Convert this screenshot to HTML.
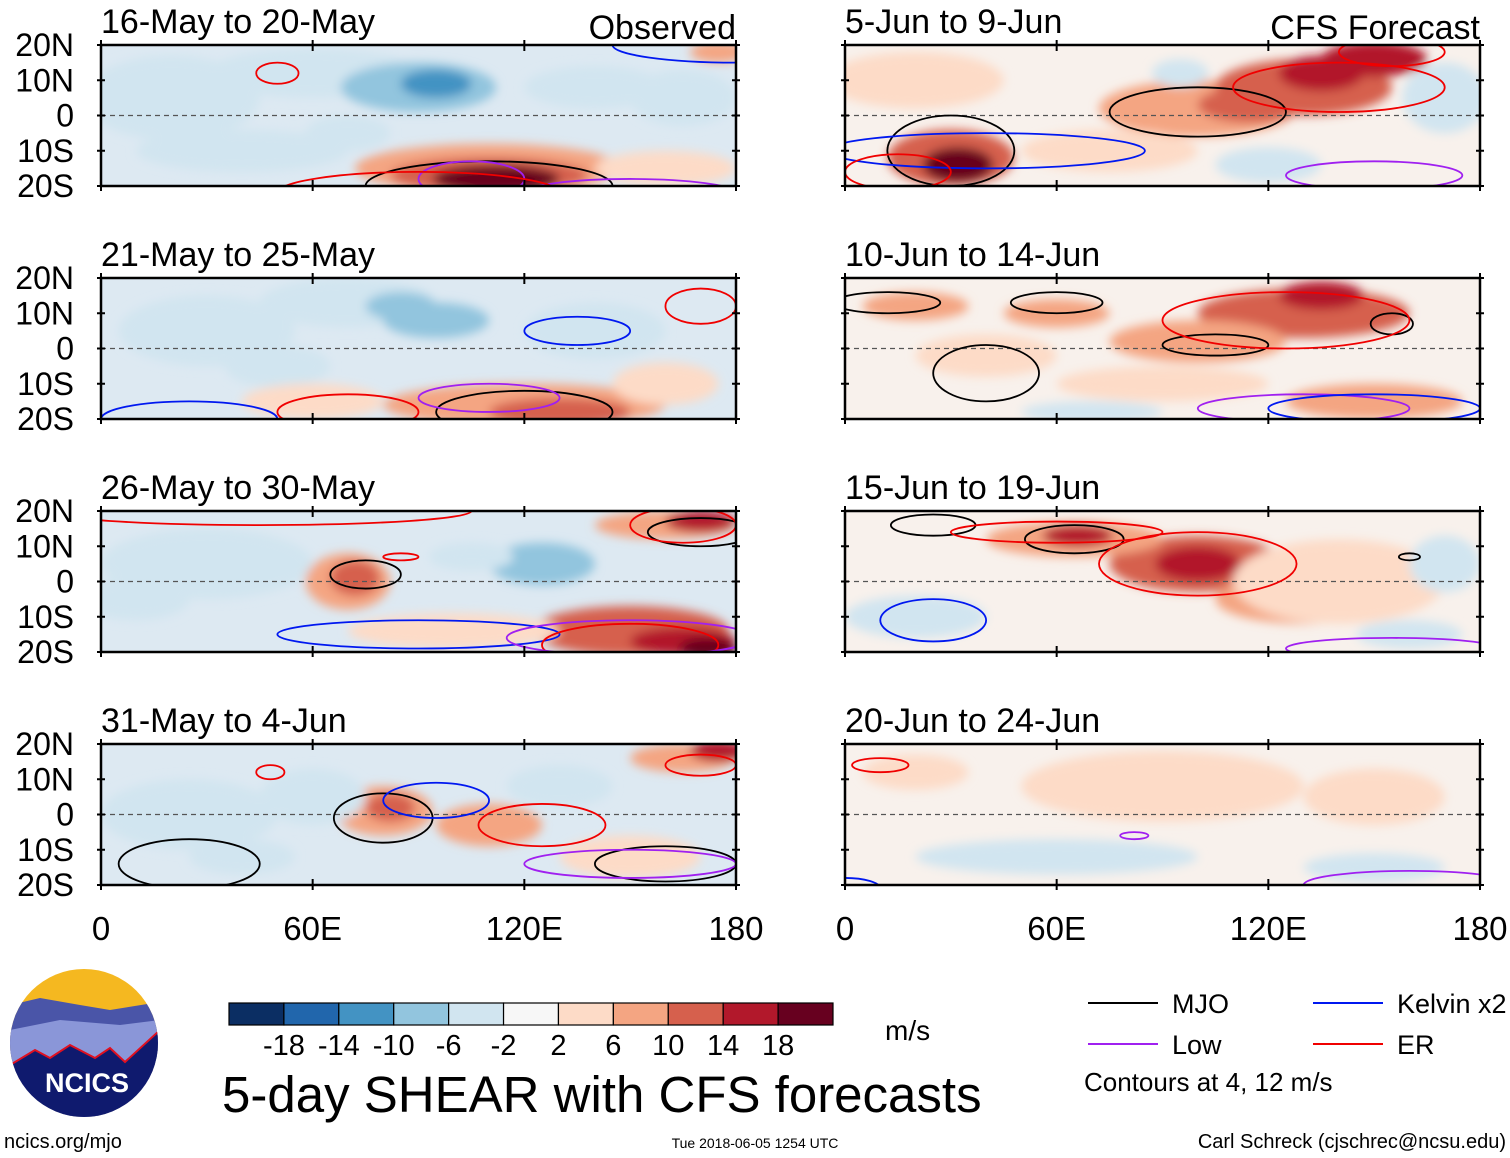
<!DOCTYPE html>
<html><head><meta charset="utf-8">
<style>
body{margin:0;background:#fff;}
svg{display:block;font-family:"Liberation Sans",sans-serif;}
</style></head>
<body>
<svg id="fig" width="1510" height="1158" viewBox="0 0 1510 1158" xmlns="http://www.w3.org/2000/svg">
<defs>
<filter id="blur" x="-30%" y="-30%" width="160%" height="160%"><feGaussianBlur stdDeviation="5"/></filter>
</defs>
<g id="panels"></g>
<g id="bottom"></g>
</svg>
<script>
// ----- data -----
const levels = [-18,-14,-10,-6,-2,2,6,10,14,18];
const levelColors = ["#0b2e63","#2166ac","#4393c3","#92c5de","#d1e5f0","#f7f7f7","#fddbc7","#f4a582","#d6604d","#b2182b","#67001f"];
const latTicks = ["20N","10N","0","10S","20S"];
const latVals = [20,10,0,-10,-20];
const lonTicks = ["0","60E","120E","180"];
const lonVals = [0,60,120,180];
const panelTitles = ["16-May to 20-May","21-May to 25-May","26-May to 30-May","31-May to 4-Jun",
                     "5-Jun to 9-Jun","10-Jun to 14-Jun","15-Jun to 19-Jun","20-Jun to 24-Jun"];
// anomaly blobs: [lon, lat, rxDeg, ryDeg, value]
const blobs = [
 [[20,5,25,12,-4],[60,12,30,7,-6],[90,8,22,7,-8],[95,9,10,4,-12],[140,8,20,6,-6],[165,5,15,8,-6],[40,-10,30,6,-4],[70,-5,12,5,-6],[110,-15,38,7,8],[110,-17,28,5,12],[112,-18,18,4,18],[160,-15,20,5,4],[175,18,8,3,8]],
 [[30,5,25,10,-4],[70,13,25,7,-6],[95,8,15,5,-10],[85,12,10,4,-8],[140,5,20,8,-4],[50,-5,15,6,-4],[120,-16,40,6,6],[130,-18,20,4,10],[160,-10,15,6,4],[60,-15,20,5,4]],
 [[30,5,30,10,-4],[10,-5,15,6,-6],[70,0,12,8,8],[72,1,7,5,10],[125,5,15,6,-8],[160,16,20,4,8],[170,17,10,3,16],[150,-14,28,7,10],[165,-17,15,4,14],[172,-19,8,3,18],[100,-14,30,5,4],[105,7,12,4,-6]],
 [[25,0,25,10,-4],[80,1,14,7,8],[82,2,7,4,12],[110,-3,15,6,6],[165,16,15,4,8],[175,18,8,3,14],[150,-12,20,6,4],[60,5,15,8,-6],[130,8,15,6,-6],[40,-12,15,5,-6]],
 [[30,-12,18,8,10],[32,-14,10,5,18],[100,2,28,8,8],[115,3,15,5,10],[130,8,25,8,10],[135,12,12,5,14],[150,16,15,5,14],[170,5,12,10,-6],[75,-10,25,6,4],[120,-14,15,5,-6],[20,10,25,8,4],[95,12,8,4,-6]],
 [[130,10,30,7,10],[135,15,12,4,16],[100,2,25,6,8],[60,10,15,4,8],[20,12,15,4,6],[40,-2,20,6,4],[150,-15,25,5,6],[90,-10,30,5,2],[70,-18,20,3,-4]],
 [[100,5,25,8,10],[100,5,12,5,16],[65,12,25,5,8],[66,13,10,3,14],[130,-5,25,7,6],[140,0,30,12,4],[20,-10,20,6,-4],[170,5,10,8,-4],[160,-15,15,4,-4]],
 [[90,8,40,10,4],[20,12,15,5,4],[150,5,20,8,2],[60,-12,40,5,-4],[150,-15,20,4,-4]]
];
// contours: [lon, lat, rxDeg, ryDeg, type]
const contours = [
 [[110,-20,35,7,"mjo"],[105,-18,15,5,"low"],[150,-22,30,4,"low"],[180,20,35,5,"kelvin"],[50,12,6,3,"er"],[90,-22,40,6,"er"]],
 [[120,-18,25,6,"mjo"],[135,5,15,4,"kelvin"],[25,-20,25,5,"kelvin"],[110,-14,20,4,"low"],[170,12,10,5,"er"],[70,-18,20,5,"er"]],
 [[75,2,10,4,"mjo"],[170,14,15,4,"mjo"],[90,-15,40,4,"kelvin"],[150,-18,25,6,"er"],[150,-16,35,5,"low"],[165,16,15,5,"er"],[45,20,60,4,"er"],[85,7,5,1,"er"]],
 [[80,-1,14,7,"mjo"],[95,4,15,5,"kelvin"],[125,-3,18,6,"er"],[25,-14,20,7,"mjo"],[160,-14,20,5,"mjo"],[150,-14,30,4,"low"],[170,14,10,3,"er"],[48,12,4,2,"er"]],
 [[100,1,25,7,"mjo"],[30,-10,18,10,"mjo"],[40,-10,45,5,"kelvin"],[140,8,30,7,"er"],[150,-17,25,4,"low"],[155,18,15,4,"er"],[15,-16,15,5,"er"]],
 [[60,13,13,3,"mjo"],[12,13,15,3,"mjo"],[40,-7,15,8,"mjo"],[105,1,15,3,"mjo"],[155,7,6,3,"mjo"],[125,8,35,8,"er"],[130,-17,30,4,"low"],[150,-17,30,4,"kelvin"]],
 [[65,12,14,4,"mjo"],[25,16,12,3,"mjo"],[160,7,3,1,"mjo"],[100,5,28,9,"er"],[60,14,30,3,"er"],[25,-11,15,6,"kelvin"],[155,-19,30,3,"low"]],
 [[10,14,8,2,"er"],[82,-6,4,1,"low"],[160,-20,30,4,"low"],[0,-21,10,3,"kelvin"]]
];
const contourColors = {mjo:"#000",kelvin:"#0018f0",low:"#a020f0",er:"#f00000"};
const legendItems = [["MJO","mjo",1088,1003],["Kelvin x2","kelvin",1313,1003],["Low","low",1088,1044],["ER","er",1313,1044]];

// ----- helpers -----
const NS = "http://www.w3.org/2000/svg";
function mk(tag, attrs, parent){const e=document.createElementNS(NS,tag);for(const k in attrs)e.setAttribute(k,attrs[k]);if(parent)parent.appendChild(e);return e;}
function colorFor(v){let i=0;while(i<levels.length&&v>=levels[i])i++;return levelColors[i];}
const PW=635, PH=141;
const panelX=[101,845], panelY=[45,278,511,744];

const root=document.getElementById("panels");
for(let p=0;p<8;p++){
  const col=p<4?0:1, row=p%4;
  const x0=panelX[col], y0=panelY[row];
  const xs=lon=>x0+lon/180*PW;
  const ys=lat=>y0+(20-lat)/40*PH;
  const g=mk("g",{},root);
  
  
  const cp=mk("clipPath",{id:"cp"+p},g);
  mk("rect",{x:x0,y:y0,width:PW,height:PH},cp);
  const inner=mk("g",{"clip-path":"url(#cp"+p+")"},g);
  mk("rect",{x:x0,y:y0,width:PW,height:PH,fill:col===0?"#dde9f2":"#f8f1ec"},inner);
  const bg=mk("g",{filter:"url(#blur)"},inner);
  blobs[p].forEach(b=>{
    const e=mk("ellipse",{cx:xs(b[0]),cy:ys(b[1]),rx:b[2]/180*PW,ry:b[3]/40*PH,fill:colorFor(b[4])},bg);
    
    
  });
  mk("line",{x1:x0,y1:ys(0),x2:x0+PW,y2:ys(0),stroke:"#555","stroke-width":1.3,"stroke-dasharray":"5,4"},inner);
  contours[p].forEach(c=>{
    const e=mk("ellipse",{cx:xs(c[0]),cy:ys(c[1]),rx:c[2]/180*PW,ry:c[3]/40*PH,fill:"none",stroke:contourColors[c[4]],"stroke-width":1.8},inner);
    
    
  });
  mk("rect",{x:x0,y:y0,width:PW,height:PH,fill:"none",stroke:"#000","stroke-width":2.5},g);
  lonVals.forEach(l=>{mk("line",{x1:xs(l),y1:y0-5,x2:xs(l),y2:y0+6,stroke:"#000","stroke-width":2},g);mk("line",{x1:xs(l),y1:y0+PH-6,x2:xs(l),y2:y0+PH+5,stroke:"#000","stroke-width":2},g);});
  latVals.forEach(l=>{mk("line",{x1:x0-4,y1:ys(l),x2:x0+4,y2:ys(l),stroke:"#000","stroke-width":2},g);mk("line",{x1:x0+PW-4,y1:ys(l),x2:x0+PW+4,y2:ys(l),stroke:"#000","stroke-width":2},g);});
  const t=mk("text",{x:x0,y:y0-12,"font-size":34,fill:"#000"},g);t.textContent=panelTitles[p];
  
  
  if(row===0){
    const s=mk("text",{x:x0+PW,y:y0-6,"font-size":34,"text-anchor":"end"},g);s.textContent=col===0?"Observed":"CFS Forecast";
    
    
  }
  if(col===0){
    latVals.forEach((l,i)=>{const tt=mk("text",{x:74,y:ys(l)+11,"font-size":32,"text-anchor":"end"},g);tt.textContent=latTicks[i];
      
      });
  }
  if(row===3){
    lonVals.forEach((l,i)=>{const tt=mk("text",{x:xs(l),y:940,"font-size":33,"text-anchor":"middle"},g);tt.textContent=lonTicks[i];
      
      });
  }
}

// ----- bottom -----
const bt=document.getElementById("bottom");
const cb=mk("g",{},bt);


const cbx=229,cbw=604/levelColors.length;
levelColors.forEach((c,i)=>{mk("rect",{x:cbx+i*cbw,y:1003,width:cbw,height:22,fill:c,stroke:"#000","stroke-width":1.2},cb);});
levels.forEach((v,i)=>{const t=mk("text",{x:cbx+(i+1)*cbw,y:1055,"font-size":29,"text-anchor":"middle"},cb);t.textContent=v;});
const mu=mk("text",{x:885,y:1040,"font-size":28},bt);mu.textContent="m/s";


const ti=mk("text",{x:222,y:1112,"font-size":51},bt);ti.textContent="5-day SHEAR with CFS forecasts";


legendItems.forEach(it=>{
  const g=mk("g",{},bt);
  
  
  mk("line",{x1:it[2],y1:it[3],x2:it[2]+70,y2:it[3],stroke:contourColors[it[1]],"stroke-width":2},g);
  const t=mk("text",{x:it[2]+84,y:it[3]+10,"font-size":27},g);t.textContent=it[0];
});
const ca=mk("text",{x:1084,y:1091,"font-size":26},bt);ca.textContent="Contours at 4, 12 m/s";


const u=mk("text",{x:4,y:1148,"font-size":20},bt);u.textContent="ncics.org/mjo";


const d=mk("text",{x:755,y:1148,"font-size":14,"text-anchor":"middle"},bt);d.textContent="Tue 2018-06-05 1254 UTC";


const a=mk("text",{x:1506,y:1148,"font-size":20,"text-anchor":"end"},bt);a.textContent="Carl Schreck (cjschrec@ncsu.edu)";


const lg=mk("g",{},bt);


const lcp=mk("clipPath",{id:"logoclip"},lg);mk("circle",{cx:84,cy:1043,r:74},lcp);
const li=mk("g",{"clip-path":"url(#logoclip)"},lg);
mk("rect",{x:10,y:969,width:150,height:150,fill:"#f5b820"},li);
mk("path",{d:"M10 1005 L40 998 L80 1005 L110 1010 L160 1002 L160 1120 L10 1120Z",fill:"#4a55a8"},li);
mk("path",{d:"M10 1030 L60 1020 L120 1025 L160 1020 L160 1120 L10 1120Z",fill:"#8a96d8"},li);
mk("path",{d:"M10 1065 L35 1050 L50 1058 L70 1045 L95 1058 L110 1048 L125 1062 L160 1030 L160 1120 L10 1120Z",fill:"#0f1a6e",stroke:"#e01020","stroke-width":2},li);
const lt=mk("text",{x:87,y:1092,"font-size":27,"font-weight":"bold",fill:"#fff","text-anchor":"middle"},lg);lt.textContent="NCICS";
</script>
</body></html>
